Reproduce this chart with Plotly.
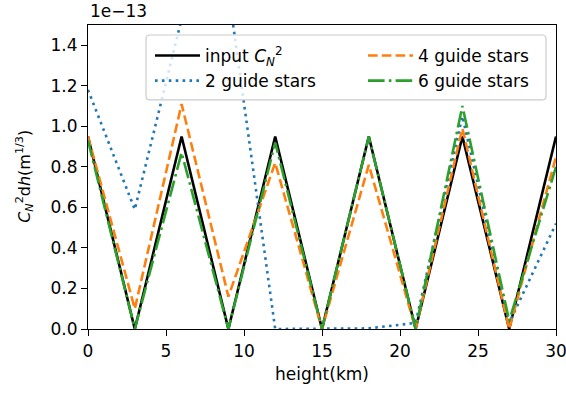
import plotly.graph_objects as go

# ---- data (units of 1e-13 m^(1/3)) ----
heights = [0, 3, 6, 9, 12, 15, 18, 21, 24, 27, 30]
input_cn2 = [0.95, 0.0, 0.95, 0.0, 0.95, 0.0, 0.95, 0.0, 0.95, 0.0, 0.95]
gs2 = [1.18, 0.59, 1.53, 1.67, 0.0, 0.0, 0.003, 0.03, 1.05, 0.03, 0.52]
gs4 = [0.95, 0.10, 1.11, 0.16, 0.82, 0.0, 0.81, 0.0, 0.99, 0.0, 0.85]
gs6 = [0.93, 0.0, 0.87, 0.0, 0.92, 0.0, 0.95, 0.0, 1.10, 0.04, 0.80]
scale = 1e-13
yticks = [0.0, 0.2, 0.4, 0.6, 0.8, 1.0, 1.2, 1.4]
xticks = [0, 5, 10, 15, 20, 25, 30]

FONT = "DejaVu Sans"
FS = 17
LW = 2.6

def sc(v):
    return [x * scale for x in v]

fig = go.Figure()
fig.add_trace(go.Scatter(x=heights, y=sc(input_cn2), mode="lines",
                         name="input <i>C</i><sub><i>N</i></sub><sup>2</sup>",
                         line=dict(color="#000000", width=LW), legend="legend",
                         legendgroup="a"))
fig.add_trace(go.Scatter(x=heights, y=sc(gs2), mode="lines", name="2 guide stars",
                         line=dict(color="#1f77b4", width=LW, dash="2.6px,4.3px"),
                         legend="legend", legendgroup="b"))
fig.add_trace(go.Scatter(x=heights, y=sc(gs4), mode="lines", name="4 guide stars",
                         line=dict(color="#ff7f0e", width=LW, dash="9.6px,4.2px"),
                         legend="legend2", legendgroup="c"))
fig.add_trace(go.Scatter(x=heights, y=sc(gs6), mode="lines", name="6 guide stars",
                         line=dict(color="#2ca02c", width=LW, dash="16.6px,4.2px,2.6px,4.2px"),
                         legend="legend2", legendgroup="d"))

# plot area in px: x 88..556, y 25..329.3
W_PA, H_PA = 468.0, 304.3
def px2paper_x(px):
    return (px - 88) / W_PA
def px2paper_y(py):
    return (329.3 - py) / H_PA

leg_common = dict(orientation="v", yanchor="top", xanchor="left",
                  bgcolor="rgba(0,0,0,0)", borderwidth=0, itemwidth=45,
                  tracegroupgap=6, font=dict(family=FONT, size=FS), traceorder="normal")

fig.update_layout(
    width=566, height=393,
    margin=dict(l=88, r=10, t=25, b=64),
    paper_bgcolor="white", plot_bgcolor="white",
    font=dict(family=FONT, size=FS, color="black"),
    showlegend=True,
    legend=dict(x=px2paper_x(150), y=px2paper_y(38), **leg_common),
    legend2=dict(x=px2paper_x(363), y=px2paper_y(38), **leg_common),
)

# legend frame (rounded rectangle)
x0, x1 = px2paper_x(146), px2paper_x(546)
y0, y1 = px2paper_y(100), px2paper_y(35)
rx, ry = 4 / W_PA, 4 / H_PA
path = (f"M {x0+rx},{y1} L {x1-rx},{y1} Q {x1},{y1} {x1},{y1-ry} "
        f"L {x1},{y0+ry} Q {x1},{y0} {x1-rx},{y0} L {x0+rx},{y0} "
        f"Q {x0},{y0} {x0},{y0+ry} L {x0},{y1-ry} Q {x0},{y1} {x0+rx},{y1} Z")
fig.add_shape(type="path", path=path, xref="paper", yref="paper", layer="above",
              fillcolor="rgba(255,255,255,0.8)", line=dict(color="#cccccc", width=1.2))

fig.update_xaxes(range=[0, 30], tickvals=xticks, ticks="outside", ticklen=6, tickwidth=1.2,
                 tickcolor="black", showline=True, linecolor="black", linewidth=1.2, mirror=True,
                 showgrid=False, zeroline=False, ticklabeloverflow="allow", automargin=False,
                 title=dict(text="height(km)", font=dict(family=FONT, size=FS), standoff=8))
fig.update_yaxes(range=[0, 1.5 * scale], tickvals=[t * scale for t in yticks],
                 ticktext=[f"{t:.1f}" for t in yticks], ticks="outside", ticklen=6, tickwidth=1.2,
                 tickcolor="black", showline=True, linecolor="black", linewidth=1.2, mirror=True,
                 showgrid=False, zeroline=False, automargin=False)
# y-axis title as rotated annotation for precise placement
fig.add_annotation(text="<i>C</i><sub><i>N</i></sub><sup>2</sup>d<i>h</i>(m<sup>1/3</sup>)",
                   xref="paper", yref="paper", x=px2paper_x(25), y=px2paper_y(177),
                   xanchor="center", yanchor="middle", textangle=-90, showarrow=False,
                   font=dict(family=FONT, size=16))
fig.add_annotation(text="1e\u221213", xref="paper", yref="paper", x=0, y=1.0,
                   xanchor="left", yanchor="bottom", showarrow=False, yshift=2,
                   font=dict(family=FONT, size=FS))

fig.write_html("out.html")
